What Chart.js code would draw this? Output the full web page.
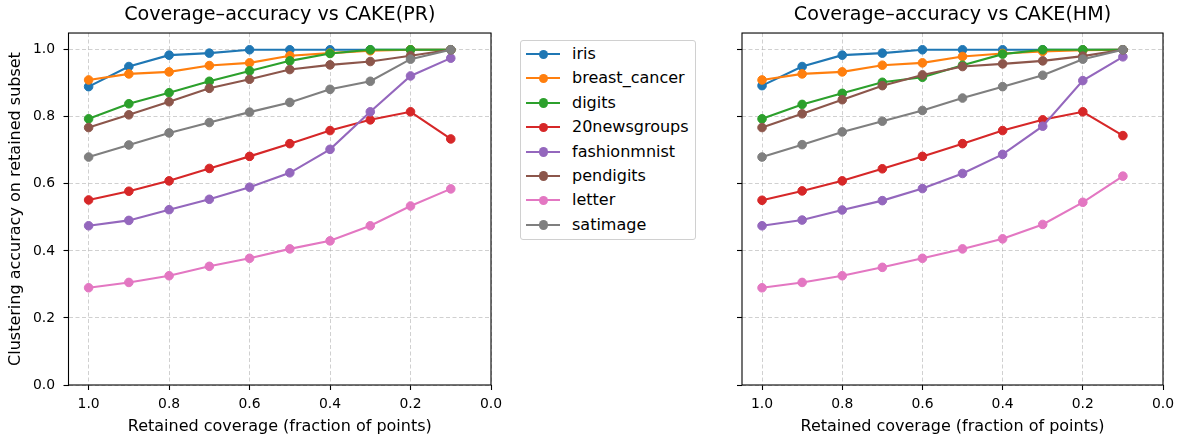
<!DOCTYPE html>
<html>
<head>
<meta charset="utf-8">
<script src="https://cdn.jsdelivr.net/npm/chart.js@4.4.1/dist/chart.umd.min.js"></script>
<style>
    body { margin: 0; background: #fff; font-family: "DejaVu Sans", sans-serif; }
    #wrap { position: relative; width: 1193px; height: 441px; overflow: hidden; }
    .box { position: absolute; top: 0; height: 441px; }
    #legend {
        position: absolute; left: 520px; top: 40px; width: 176px; height: 200px;
        border: 1px solid #d0d0d0; border-radius: 3px; background: rgba(255,255,255,0.8);
        box-sizing: border-box; padding-top: 1px; color: #000;
    }
    .row { position: relative; height: 24.4px; font-size: 16px; line-height: 24.4px; }
    .row .ln { position: absolute; left: 5px; top: 11px; width: 34px; height: 2px; }
    .row .dot { position: absolute; left: 17.5px; top: 7.5px; width: 9.5px; height: 9.5px; border-radius: 50%; }
    .row .tx { position: absolute; left: 51px; top: 0; white-space: nowrap; }
</style>
</head>
<body>
<div id="wrap">
    <div class="box" style="left:0;width:520px"><canvas id="PRChart"></canvas></div>
    <div class="box" style="left:700px;width:493px"><canvas id="HMChart"></canvas></div>
    <div id="legend"></div>
</div>
<script>
// coverage kept on the x axis (reversed)
const coverage = [1.0, 0.9, 0.8, 0.7, 0.6, 0.5, 0.4, 0.3, 0.2, 0.1];
const xTicks = [0, 0.2, 0.4, 0.6, 0.8, 1.0];
const yTicks = [0, 0.2, 0.4, 0.6, 0.8, 1.0];

const names = ['iris', 'breast_cancer', 'digits', '20newsgroups', 'fashionmnist', 'pendigits', 'letter', 'satimage'];
const colors = ['#1f77b4', '#ff7f0e', '#2ca02c', '#d62728', '#9467bd', '#8c564b', '#e377c2', '#7f7f7f'];

// CAKE(PR)
const pr_iris = [0.890, 0.950, 0.984, 0.990, 1.0, 1.0, 1.0, 1.0, 1.0, 1.0];
const pr_breast = [0.910, 0.928, 0.934, 0.953, 0.961, 0.982, 0.990, 0.997, 1.0, 1.0];
const pr_digits = [0.794, 0.839, 0.872, 0.906, 0.937, 0.967, 0.989, 1.0, 1.0, 1.0];
const pr_news = [0.552, 0.578, 0.609, 0.646, 0.682, 0.720, 0.759, 0.791, 0.815, 0.734];
const pr_fashion = [0.475, 0.491, 0.523, 0.554, 0.590, 0.633, 0.703, 0.815, 0.922, 0.975];
const pr_pendigits = [0.768, 0.806, 0.845, 0.885, 0.912, 0.941, 0.955, 0.965, 0.982, 1.0];
const pr_letter = [0.290, 0.306, 0.326, 0.354, 0.378, 0.406, 0.430, 0.475, 0.534, 0.585];
const pr_satimage = [0.680, 0.716, 0.752, 0.783, 0.814, 0.843, 0.882, 0.906, 0.972, 1.0];

// CAKE(HM)
const hm_iris = [0.893, 0.950, 0.984, 0.990, 1.0, 1.0, 1.0, 1.0, 1.0, 1.0];
const hm_breast = [0.910, 0.928, 0.934, 0.954, 0.961, 0.980, 0.989, 0.995, 0.999, 1.0];
const hm_digits = [0.794, 0.837, 0.870, 0.903, 0.918, 0.954, 0.987, 1.0, 1.0, 1.0];
const hm_news = [0.551, 0.579, 0.609, 0.645, 0.682, 0.720, 0.759, 0.791, 0.815, 0.744];
const hm_fashion = [0.475, 0.492, 0.522, 0.550, 0.586, 0.631, 0.688, 0.772, 0.908, 0.979];
const hm_pendigits = [0.768, 0.809, 0.851, 0.893, 0.925, 0.950, 0.958, 0.967, 0.981, 1.0];
const hm_letter = [0.290, 0.306, 0.326, 0.351, 0.378, 0.406, 0.436, 0.479, 0.545, 0.623];
const hm_satimage = [0.680, 0.717, 0.755, 0.787, 0.819, 0.856, 0.890, 0.924, 0.972, 1.0];

const prSeries = [pr_iris, pr_breast, pr_digits, pr_news, pr_fashion, pr_pendigits, pr_letter, pr_satimage];
const hmSeries = [hm_iris, hm_breast, hm_digits, hm_news, hm_fashion, hm_pendigits, hm_letter, hm_satimage];

Chart.defaults.font.family = '"DejaVu Sans", sans-serif';
Chart.defaults.color = '#000';

// full box around the plot area, like matplotlib spines
const framePlugin = {
    id: 'frame',
    afterDatasetsDraw(chart) {
        const a = chart.chartArea;
        const c = chart.ctx;
        c.save();
        c.strokeStyle = '#000';
        c.lineWidth = 1.1;
        c.strokeRect(a.left, a.top, a.right - a.left, a.bottom - a.top);
        c.restore();
    }
};

function makeDatasets(series) {
    return series.map(function (vals, i) {
        return {
            label: names[i],
            data: coverage.map((c, k) => ({ x: c, y: vals[k] })),
            borderColor: colors[i],
            backgroundColor: colors[i],
            borderWidth: 2.1,
            pointRadius: 4.3,
            pointHoverRadius: 4.3,
            pointBorderWidth: 1,
            order: series.length - i   // later series on top, like matplotlib
        };
    });
}

const gridOpts = {
    color: 'rgba(176,176,176,0.6)',
    lineWidth: 1,
    tickColor: '#000',
    tickWidth: 1.1,
    tickLength: 5,
    tickBorderDash: []
};

function makeConfig(series, title, showYLabels, yWidth, padRight) {
    return {
        type: 'line',
        data: { datasets: makeDatasets(series) },
        plugins: [framePlugin],
        options: {
            responsive: true,
            maintainAspectRatio: false,
            animation: false,
            layout: { padding: { left: 0, right: padRight, top: 1, bottom: 0 } },
            plugins: {
                legend: { display: false },
                tooltip: { enabled: false },
                title: {
                    display: true,
                    text: title,
                    fullSize: false,
                    font: { size: 19.1, weight: 'normal' },
                    padding: { top: 2.5, bottom: 6.6 }
                }
            },
            scales: {
                x: {
                    type: 'linear',
                    reverse: true,
                    min: 0,
                    max: 1.05,
                    afterBuildTicks: function (scale) { scale.ticks = xTicks.map(v => ({ value: v })); },
                    afterFit: function (scale) { scale.height = 56; },
                    ticks: {
                        font: { size: 13.9 },
                        padding: 6,
                        maxRotation: 0,
                        callback: v => Number(v).toFixed(1)
                    },
                    grid: Object.assign({}, gridOpts),
                    border: { display: false, dash: [4, 2.5] },
                    title: {
                        display: true,
                        text: 'Retained coverage (fraction of points)',
                        font: { size: 16 },
                        padding: { top: 0, bottom: 4.5 }
                    }
                },
                y: {
                    type: 'linear',
                    min: 0,
                    max: 1.05,
                    afterBuildTicks: function (scale) { scale.ticks = yTicks.map(v => ({ value: v })); },
                    afterFit: function (scale) { scale.width = yWidth; },
                    ticks: {
                        display: showYLabels,
                        font: { size: 13.9 },
                        padding: 8.5,
                        callback: v => Number(v).toFixed(1)
                    },
                    grid: Object.assign({}, gridOpts),
                    border: { display: false, dash: [4, 2.5] },
                    title: {
                        display: showYLabels,
                        text: 'Clustering accuracy on retained subset',
                        font: { size: 16 },
                        padding: { top: 6.5, bottom: 0 }
                    }
                }
            }
        }
    };
}

const PRChart = new Chart(document.getElementById('PRChart'),
    makeConfig(prSeries, 'Coverage–accuracy vs CAKE(PR)', true, 68.5, 29));
const HMChart = new Chart(document.getElementById('HMChart'),
    makeConfig(hmSeries, 'Coverage–accuracy vs CAKE(HM)', false, 42, 30));

// legend box between the two plots
const legend = document.getElementById('legend');
for (let i = 0; i < names.length; i++) {
    const row = document.createElement('div');
    row.className = 'row';
    row.innerHTML = '<span class="ln" style="background:' + colors[i] + '"></span>' +
        '<span class="dot" style="background:' + colors[i] + '"></span>' +
        '<span class="tx">' + names[i] + '</span>';
    legend.appendChild(row);
}
</script>
</body>
</html>
